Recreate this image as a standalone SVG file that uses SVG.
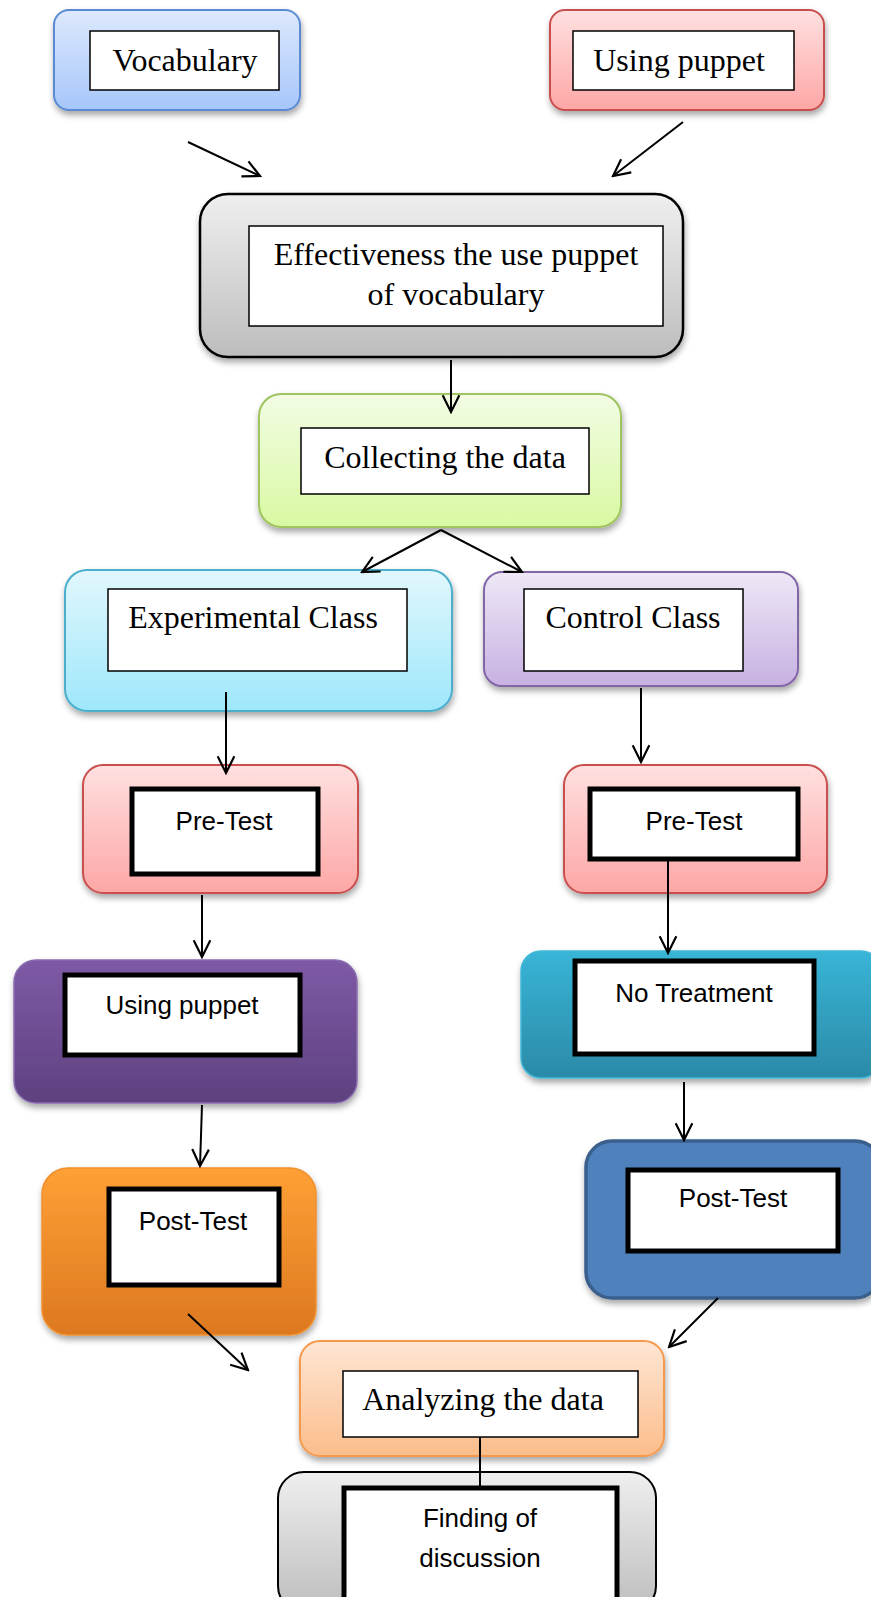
<svg xmlns="http://www.w3.org/2000/svg" width="871" height="1597" viewBox="0 0 871 1597">
<defs>
<linearGradient id="gBlue" x1="0" y1="0" x2="0" y2="1"><stop offset="0" stop-color="#dde9fd"/><stop offset="1" stop-color="#a6c6fa"/></linearGradient>
<linearGradient id="gPink" x1="0" y1="0" x2="0" y2="1"><stop offset="0" stop-color="#ffe0e0"/><stop offset="1" stop-color="#fda7a6"/></linearGradient>
<linearGradient id="gGray" x1="0" y1="0" x2="0" y2="1"><stop offset="0" stop-color="#efefef"/><stop offset="1" stop-color="#bdbdbd"/></linearGradient>
<linearGradient id="gGreen" x1="0" y1="0" x2="0" y2="1"><stop offset="0" stop-color="#f2fce4"/><stop offset="1" stop-color="#d9f9a2"/></linearGradient>
<linearGradient id="gCyan" x1="0" y1="0" x2="0" y2="1"><stop offset="0" stop-color="#e2f7fd"/><stop offset="1" stop-color="#9ee7fb"/></linearGradient>
<linearGradient id="gLav" x1="0" y1="0" x2="0" y2="1"><stop offset="0" stop-color="#eee8f6"/><stop offset="1" stop-color="#c7b1e2"/></linearGradient>
<linearGradient id="gPurple" x1="0" y1="0" x2="0" y2="1"><stop offset="0" stop-color="#7e5aa6"/><stop offset="1" stop-color="#5e417f"/></linearGradient>
<linearGradient id="gOrange" x1="0" y1="0" x2="0" y2="1"><stop offset="0" stop-color="#ffa035"/><stop offset="1" stop-color="#dd7821"/></linearGradient>
<linearGradient id="gTeal" x1="0" y1="0" x2="0" y2="1"><stop offset="0" stop-color="#38b5d7"/><stop offset="1" stop-color="#2b8aa7"/></linearGradient>
<linearGradient id="gPeach" x1="0" y1="0" x2="0" y2="1"><stop offset="0" stop-color="#fee6d4"/><stop offset="1" stop-color="#fbbd8b"/></linearGradient>
<filter id="sh" x="-10%" y="-10%" width="120%" height="130%"><feDropShadow dx="1" dy="4" stdDeviation="3" flood-color="#000" flood-opacity="0.35"/></filter>
<marker id="ah" viewBox="0 0 12 12" refX="11" refY="6" markerWidth="20" markerHeight="20" markerUnits="userSpaceOnUse" orient="auto"><path d="M1,1 L11,6 L1,11" fill="none" stroke="#000" stroke-width="1.3"/></marker>
</defs>
<style>
.serif{font-family:"Liberation Serif","Times New Roman",serif;font-size:32px;fill:#000;text-anchor:middle}
.sans{font-family:"Liberation Sans",Arial,sans-serif;font-size:26px;fill:#000;text-anchor:middle}
.in{fill:#fff;stroke:#000;stroke-width:1.5}
.inb{fill:#fff;stroke:#000;stroke-width:5}
.con{stroke:#000;stroke-width:2;fill:none}
</style>
<rect width="871" height="1597" fill="#fff"/>

<g id="vocabulary">
<rect x="54" y="10" width="246" height="100" rx="15" fill="url(#gBlue)" stroke="#5a8ad2" stroke-width="2" filter="url(#sh)"/>
<rect class="in" x="90" y="31" width="189" height="59"/>
<text class="serif" x="185" y="71">Vocabulary</text>
</g>

<g id="using-puppet-top">
<rect x="550" y="10" width="274" height="100" rx="15" fill="url(#gPink)" stroke="#c8504e" stroke-width="2" filter="url(#sh)"/>
<rect class="in" x="573" y="31" width="221" height="59"/>
<text class="serif" x="679" y="71">Using puppet</text>
</g>

<g id="effectiveness">
<rect x="200" y="194" width="483" height="163" rx="28" fill="url(#gGray)" stroke="#000" stroke-width="2.5" filter="url(#sh)"/>
<rect class="in" x="249" y="226" width="414" height="100"/>
<text class="serif" x="456" y="265">Effectiveness the use puppet</text>
<text class="serif" x="456" y="305">of vocabulary</text>
</g>

<g id="collecting">
<rect x="259" y="394" width="362" height="133" rx="22" fill="url(#gGreen)" stroke="#9fc460" stroke-width="2" filter="url(#sh)"/>
<rect class="in" x="301" y="428" width="288" height="66"/>
<text class="serif" x="445" y="468">Collecting the data</text>
</g>

<g id="experimental">
<rect x="65" y="570" width="387" height="141" rx="22" fill="url(#gCyan)" stroke="#4bafcb" stroke-width="2" filter="url(#sh)"/>
<rect class="in" x="108" y="589" width="299" height="82"/>
<text class="serif" x="253" y="628">Experimental Class</text>
</g>

<g id="control">
<rect x="484" y="572" width="314" height="114" rx="18" fill="url(#gLav)" stroke="#8266a6" stroke-width="2" filter="url(#sh)"/>
<rect class="in" x="524" y="589" width="219" height="82"/>
<text class="serif" x="633" y="628">Control Class</text>
</g>

<g id="pretest-left">
<rect x="83" y="765" width="275" height="128" rx="20" fill="url(#gPink)" stroke="#c8504e" stroke-width="2" filter="url(#sh)"/>
<rect class="inb" x="132" y="789" width="186" height="85"/>
<text class="sans" x="224" y="830">Pre-Test</text>
</g>

<g id="pretest-right">
<rect x="564" y="765" width="263" height="128" rx="20" fill="url(#gPink)" stroke="#c8504e" stroke-width="2" filter="url(#sh)"/>
<rect class="inb" x="590" y="789" width="208" height="70"/>
<text class="sans" x="694" y="830">Pre-Test</text>
</g>

<g id="using-puppet">
<rect x="14" y="960" width="343" height="143" rx="22" fill="url(#gPurple)" stroke="#8a6bb0" stroke-width="1.5" filter="url(#sh)"/>
<rect class="inb" x="65" y="975" width="235" height="80"/>
<text class="sans" x="182" y="1014">Using puppet</text>
</g>

<g id="no-treatment">
<rect x="521" y="951" width="360" height="127" rx="20" fill="url(#gTeal)" stroke="#40b8d8" stroke-width="1.5" filter="url(#sh)"/>
<rect class="inb" x="575" y="961" width="239" height="93"/>
<text class="sans" x="694" y="1002">No Treatment</text>
</g>

<g id="posttest-left">
<rect x="42" y="1168" width="274" height="167" rx="26" fill="url(#gOrange)" stroke="#f0902e" stroke-width="1.5" filter="url(#sh)"/>
<rect class="inb" x="109" y="1189" width="170" height="96"/>
<text class="sans" x="193" y="1230">Post-Test</text>
</g>

<g id="posttest-right">
<rect x="586" y="1141" width="295" height="157" rx="26" fill="#4f81bd" stroke="#3a5f8d" stroke-width="3.5" filter="url(#sh)"/>
<rect class="inb" x="628" y="1170" width="210" height="81"/>
<text class="sans" x="733" y="1207">Post-Test</text>
</g>

<g id="analyzing">
<rect x="300" y="1341" width="364" height="115" rx="20" fill="url(#gPeach)" stroke="#f59a4e" stroke-width="2" filter="url(#sh)"/>
<rect class="in" x="343" y="1371" width="295" height="66"/>
<text class="serif" x="483" y="1410">Analyzing the data</text>
</g>

<g id="finding">
<rect x="278" y="1472" width="378" height="140" rx="26" fill="url(#gGray)" stroke="#000" stroke-width="2"/>
<rect class="inb" x="344" y="1488" width="273" height="120"/>
<text class="sans" x="480" y="1527">Finding of</text>
<text class="sans" x="480" y="1567">discussion</text>
</g>

<g id="connectors">
<line class="con" x1="188" y1="142" x2="260" y2="176" marker-end="url(#ah)"/>
<line class="con" x1="683" y1="122" x2="613" y2="176" marker-end="url(#ah)"/>
<line class="con" x1="451" y1="360" x2="451" y2="412" marker-end="url(#ah)"/>
<line class="con" x1="441" y1="530" x2="362" y2="572" marker-end="url(#ah)"/>
<line class="con" x1="441" y1="530" x2="522" y2="572" marker-end="url(#ah)"/>
<line class="con" x1="226" y1="692" x2="226" y2="773" marker-end="url(#ah)"/>
<line class="con" x1="641" y1="688" x2="641" y2="762" marker-end="url(#ah)"/>
<line class="con" x1="202" y1="895" x2="202" y2="957" marker-end="url(#ah)"/>
<line class="con" x1="202" y1="1105" x2="200" y2="1166" marker-end="url(#ah)"/>
<line class="con" x1="668" y1="860" x2="668" y2="953" marker-end="url(#ah)"/>
<line class="con" x1="684" y1="1082" x2="684" y2="1140" marker-end="url(#ah)"/>
<line class="con" x1="188" y1="1314" x2="248" y2="1370" marker-end="url(#ah)"/>
<line class="con" x1="718" y1="1298" x2="669" y2="1347" marker-end="url(#ah)"/>
<line class="con" x1="480" y1="1437" x2="480" y2="1488"/>
</g>
</svg>
